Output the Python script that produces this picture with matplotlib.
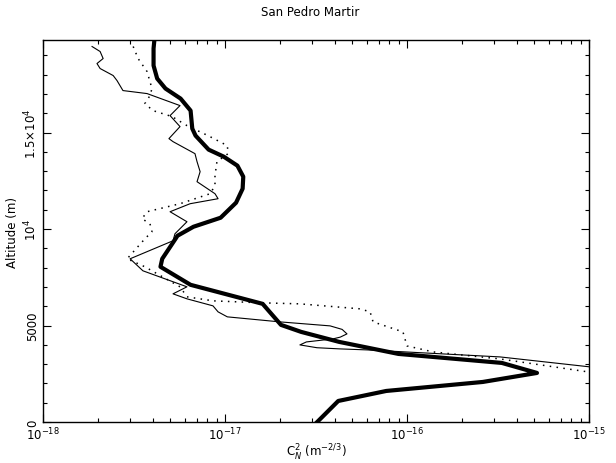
import matplotlib
matplotlib.use("Agg")
import matplotlib.pyplot as plt
from matplotlib.ticker import FixedLocator, MultipleLocator, LogLocator, NullFormatter

# Thick solid profile
thick_alt = [0, 1090, 1609, 2076, 2543, 3062, 3529, 4152, 4671, 5034, 6124, 7110,
             8045, 8460, 9498, 9653, 10120, 10588, 11366, 12093, 12716, 13286,
             13754, 14117, 14843, 15207, 16141, 16764, 17283, 17802, 18476, 19358, 19774]
thick_cn2 = [3.21e-17, 4.19e-17, 7.69e-17, 2.61e-16, 5.18e-16, 3.32e-16, 8.97e-17,
             4.24e-17, 2.62e-17, 2.03e-17, 1.61e-17, 6.47e-18, 4.42e-18, 4.52e-18,
             5.35e-18, 5.48e-18, 6.71e-18, 9.46e-18, 1.15e-17, 1.25e-17, 1.26e-17,
             1.17e-17, 9.84e-18, 8.13e-18, 6.89e-18, 6.61e-18, 6.47e-18, 5.70e-18,
             4.71e-18, 4.24e-18, 4.05e-18, 4.05e-18, 4.09e-18]

# Thin solid profile
thin_alt = [19463, 19203, 18840, 18580, 18321, 17957, 17698, 17179, 17023, 16400,
            15881, 15311, 14688, 14532, 13909, 13494, 12975, 12456, 11833, 11574,
            11314, 10899, 10380, 9757, 9394, 8460, 7837, 7007, 6643, 6384, 6020,
            5709, 5450, 5190, 4982, 4800, 4567, 4400, 4308, 4150, 3996, 3850, 3789,
            3737, 3374, 2840]
thin_cn2 = [1.86e-18, 2.06e-18, 2.14e-18, 1.98e-18, 2.06e-18, 2.43e-18, 2.55e-18,
            2.75e-18, 3.73e-18, 5.66e-18, 4.99e-18, 5.66e-18, 4.92e-18, 5.18e-18,
            6.84e-18, 7.02e-18, 7.30e-18, 7.02e-18, 8.81e-18, 9.16e-18, 6.43e-18,
            4.99e-18, 6.18e-18, 5.31e-18, 5.18e-18, 3.01e-18, 3.54e-18, 6.18e-18,
            5.18e-18, 6.18e-18, 8.59e-18, 9.16e-18, 1.03e-17, 2.00e-17, 3.78e-17,
            4.40e-17, 4.68e-17, 4.30e-17, 3.92e-17, 2.80e-17, 2.58e-17, 3.20e-17,
            4.28e-17, 6.03e-17, 3.24e-16, 1.05e-15]

# Dotted profile
dot_alt = [19463, 18840, 18165, 17283, 16919, 16504, 16141, 15830, 15362, 14843,
           14324, 13909, 13494, 12767, 12248, 11833, 11314, 10899, 10536, 10276,
           9861, 9498, 8460, 8045, 7007, 6488, 6280, 6176, 6124, 5865, 5709, 5190,
           4671, 3944, 3633, 3270, 2560]
dot_cn2 = [3.13e-18, 3.33e-18, 3.73e-18, 3.97e-18, 3.87e-18, 3.63e-18, 4.02e-18,
           5.12e-18, 6.18e-18, 8.07e-18, 1.03e-17, 1.04e-17, 9.03e-18, 8.81e-18,
           8.81e-18, 8.28e-18, 5.66e-18, 3.73e-18, 3.50e-18, 3.87e-18, 3.97e-18,
           3.63e-18, 2.90e-18, 3.63e-18, 5.66e-18, 6.18e-18, 8.59e-18, 1.60e-17,
           2.58e-17, 5.52e-17, 6.27e-17, 6.51e-17, 9.50e-17, 1.00e-16, 1.39e-16,
           3.24e-16, 1.05e-15]

y_ticks = [0, 5000, 10000, 15000]
y_ticklabels = ["0", "5000", r"$10^4$", r"$1.5{\times}10^4$"]
x_ticks = [1e-18, 1e-17, 1e-16, 1e-15]
x_ticklabels = [r"$10^{-18}$", r"$10^{-17}$", r"$10^{-16}$", r"$10^{-15}$"]

fig = plt.figure(figsize=(6.16, 4.64), dpi=100)
ax = fig.add_axes([43/616, 1-423/464, (589-43)/616, (423-41)/464])

ax.plot(thin_cn2, thin_alt, color="black", lw=0.8, solid_joinstyle="round")
ax.plot(dot_cn2, dot_alt, color="black", lw=1.1, linestyle=(0, (1, 3.5)))
ax.plot(thick_cn2, thick_alt, color="black", lw=3.0, solid_joinstyle="round")

ax.set_xscale("log")
ax.set_xlim(1e-18, 1e-15)
ax.set_ylim(0, 19800)

ax.xaxis.set_major_locator(FixedLocator(x_ticks))
ax.set_xticklabels(x_ticklabels)
ax.xaxis.set_minor_locator(LogLocator(base=10, subs=range(2, 10)))
ax.xaxis.set_minor_formatter(NullFormatter())
ax.yaxis.set_major_locator(FixedLocator(y_ticks))
ax.set_yticklabels(y_ticklabels, rotation=90, va="center")
ax.yaxis.set_minor_locator(MultipleLocator(1000))

ax.tick_params(which="both", direction="in", top=True, right=True, labelsize=8.5, width=0.8)
ax.tick_params(which="major", length=6, pad=3)
ax.tick_params(which="minor", length=3)
for s in ax.spines.values():
    s.set_linewidth(1.0)

ax.set_ylabel("Altitude (m)", fontsize=8.5, labelpad=2)
fig.text(316/616, 1-453/464, r"C$_N^2$ (m$^{-2/3}$)", ha="center", va="center", fontsize=8.5)
fig.text(310/616, 1-12/464, "San Pedro Martir", ha="center", va="center", fontsize=8.5)

fig.savefig("out.png", dpi=100)
